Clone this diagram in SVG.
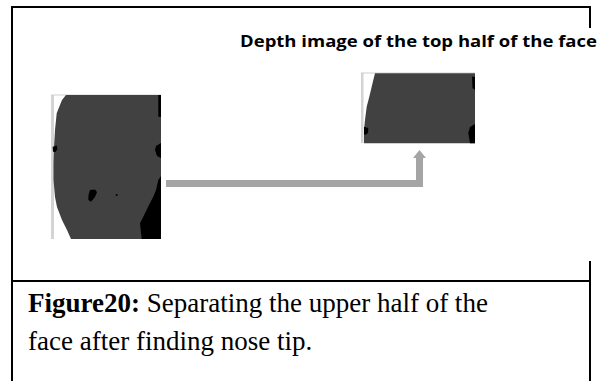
<svg xmlns="http://www.w3.org/2000/svg" width="603" height="381" viewBox="0 0 603 381">
<defs>
<style>
.frame{stroke:#000;stroke-width:2;fill:none}
.face{fill:#414141}
.blk{fill:#000}
.strip{fill:#d4d4d4}
.lbl{font-family:"Open Sans","Liberation Sans",Arial,sans-serif;font-weight:bold;font-size:16.5px;fill:#000}
.cap{font-family:"Liberation Serif","Times New Roman",serif;font-size:27px;fill:#000}
.arrow{fill:#a5a5a5}
</style>
</defs>
<rect width="603" height="381" fill="#fff"/>
<g id="frame">
<path class="frame" d="M12,381 V7 H590 V28"/>
<path class="frame" d="M12,281 H590"/>
<path class="frame" d="M590,261 V381"/>
</g>
<g id="label">
<text class="lbl" x="240" y="47" textLength="357" lengthAdjust="spacingAndGlyphs">Depth image of the top half of the face</text>
</g>
<g id="left-face">
<rect x="51" y="95" width="110" height="144" fill="#fff"/>
<rect class="strip" x="51" y="95" width="3" height="144"/>
<rect x="51" y="94.5" width="110" height="1" fill="#cfcfcf"/>
<path class="face" d="M66,95 L161,95 L161,239 L71,239 L67,230 L62,220 L57,207 L55,197 L53.5,180 L53.5,163 L54,147 L55,130 L56.7,113.3 L59.3,106.7 L62,100 Z"/>
<path class="blk" d="M158.3,95 L161,95 L161,117 L158.3,116.7 Z"/>
<path class="blk" d="M161,143 L156,146 L155,150 L157,156 L161,158 Z"/>
<path class="blk" d="M161,176 L158.3,180 L156,190 L153.3,196.7 L149,205 L145,213.3 L140,223.3 L141.7,239 L161,239 Z"/>
<path class="blk" d="M52.7,146.7 L56.7,145.5 L57.5,149 L55.5,152 L53,151.7 Z"/>
<path class="blk" d="M90,190 L95,189.5 L97,192 L95,197 L91,201.7 L88.3,200 L88.5,195 Z"/>
<circle class="blk" cx="116.7" cy="195" r="1"/>
</g>
<g id="right-face">
<rect x="361" y="73" width="114" height="70" fill="#fff"/>
<rect class="strip" x="361" y="73" width="2.5" height="70"/>
<rect x="361" y="72.5" width="114" height="1" fill="#cfcfcf"/>
<path class="face" d="M375,73.3 L475,73.3 L475,143.3 L364,143.3 L364,130 L365,120 L366.7,106.7 L369.3,96.7 L371.7,86.7 L373.3,80 Z"/>
<path class="blk" d="M472,76.7 L475,76.7 L475,90 L472.5,88 Z"/>
<path class="blk" d="M475,124 L470,127 L468.3,133 L470,143.3 L475,143.3 Z"/>
<path class="blk" d="M364,126.7 L368.3,128 L368,133 L365,135 L364,134 Z"/>
</g>
<g id="connectors">
<path class="arrow" d="M166,180 L416,180 L416,158 L413,158 L419.5,150 L426,158 L423,158 L423,187 L166,187 Z"/>
</g>
<g id="caption">
<text class="cap" x="28" y="312"><tspan font-weight="bold">Figure20:</tspan> Separating the upper half of the</text>
<text class="cap" x="28" y="350">face after finding nose tip.</text>
</g>
</svg>
